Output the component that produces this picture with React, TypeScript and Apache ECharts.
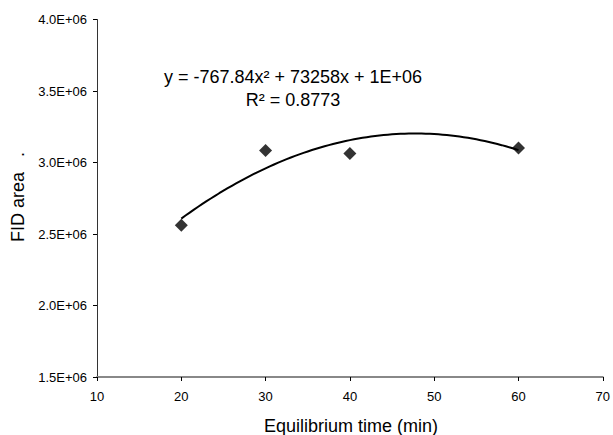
import React, { useEffect, useRef } from "react";
import * as echarts from "echarts";

const xValues = [20, 30, 40, 60];
const yValues = [2.561e6, 3.084e6, 3.063e6, 3.102e6];
const yTickMin = 1.5e6;
const yTickMax = 4.0e6;
const yTickStep = 0.5e6;
const xTickMin = 10;
const xTickMax = 70;
const xTickStep = 10;
const equationText = "y = -767.84x\u00B2 + 73258x + 1E+06";
const r2Text = "R\u00B2 = 0.8773";
const xTitle = "Equilibrium time (min)";
const yTitle = "FID area   .";

// least-squares quadratic fit from the data points
function fitQuadratic(xs: number[], ys: number[]) {
  const n = xs.length;
  let s1 = 0, s2 = 0, s3 = 0, s4 = 0, sy = 0, sxy = 0, sx2y = 0;
  for (let i = 0; i < n; i++) {
    const x = xs[i], y = ys[i];
    s1 += x; s2 += x * x; s3 += x * x * x; s4 += x * x * x * x;
    sy += y; sxy += x * y; sx2y += x * x * y;
  }
  const M = [
    [n, s1, s2, sy],
    [s1, s2, s3, sxy],
    [s2, s3, s4, sx2y],
  ];
  for (let c = 0; c < 3; c++) {
    for (let r = c + 1; r < 3; r++) {
      const f = M[r][c] / M[c][c];
      for (let k = c; k < 4; k++) M[r][k] -= f * M[c][k];
    }
  }
  const sol = [0, 0, 0];
  for (let r = 2; r >= 0; r--) {
    let v = M[r][3];
    for (let k = r + 1; k < 3; k++) v -= M[r][k] * sol[k];
    sol[r] = v / M[r][r];
  }
  return sol; // c, b, a
}

export default function App() {
  const ref = useRef<HTMLDivElement>(null);
  useEffect(() => {
    if (!ref.current) return;
    const chart = echarts.init(ref.current, undefined, { renderer: "svg" });
    const [c, b, a] = fitQuadratic(xValues, yValues);
    const x0 = Math.min(...xValues);
    const x1 = Math.max(...xValues);
    const trend: number[][] = [];
    const steps = 80;
    for (let i = 0; i <= steps; i++) {
      const x = x0 + ((x1 - x0) * i) / steps;
      trend.push([x, a * x * x + b * x + c]);
    }
    const font = "'Liberation Sans', Arial, sans-serif";
    chart.setOption({
      animation: false,
      backgroundColor: "#fff",
      grid: { left: 97, top: 19.5, width: 509, height: 357.5, containLabel: false },
      xAxis: {
        type: "value",
        min: xTickMin,
        max: xTickMax,
        interval: xTickStep,
        axisLine: { show: true, lineStyle: { color: "#888", width: 2 } },
        axisTick: { show: true, length: 4, lineStyle: { color: "#000", width: 1 } },
        axisLabel: { color: "#000", fontSize: 13, fontFamily: font, margin: 13 },
        splitLine: { show: false },
      },
      yAxis: {
        type: "value",
        min: yTickMin,
        max: yTickMax,
        interval: yTickStep,
        axisLine: { show: true, lineStyle: { color: "#333", width: 1 } },
        axisTick: { show: true, length: 4, lineStyle: { color: "#000", width: 1 } },
        axisLabel: {
          color: "#000",
          fontSize: 13,
          fontFamily: font,
          margin: 10,
          formatter: (v: number) => (v / 1e6).toFixed(1) + "E+06",
        },
        splitLine: { show: false },
      },
      series: [
        {
          type: "line",
          data: trend,
          showSymbol: false,
          symbol: "none",
          lineStyle: { color: "#000", width: 2 },
          z: 2,
          silent: true,
        },
        {
          type: "scatter",
          data: xValues.map((x, i) => [x, yValues[i]]),
          symbol: "diamond",
          symbolSize: [13, 13],
          itemStyle: { color: "#000" },
          z: 3,
        },
      ],
      graphic: [
        {
          type: "text",
          x: 293,
          y: 77,
          style: {
            text: equationText,
            fill: "#000",
            fontSize: 18,
            fontFamily: font,
            align: "center",
            verticalAlign: "middle",
          },
        },
        {
          type: "text",
          x: 293,
          y: 100,
          style: {
            text: r2Text,
            fill: "#000",
            fontSize: 18,
            fontFamily: font,
            align: "center",
            verticalAlign: "middle",
          },
        },
        {
          type: "text",
          x: 351,
          y: 426,
          style: {
            text: xTitle,
            fill: "#000",
            fontSize: 18,
            fontFamily: font,
            align: "center",
            verticalAlign: "middle",
          },
        },
        {
          type: "text",
          x: 18,
          y: 197,
          rotation: Math.PI / 2,
          style: {
            text: yTitle,
            fill: "#000",
            fontSize: 18,
            fontFamily: font,
            align: "center",
            verticalAlign: "middle",
          },
        },
      ],
    });
    return () => chart.dispose();
  }, []);
  return (
    <div
      ref={ref}
      style={{ position: "absolute", left: 0, top: 0, width: 613, height: 435 }}
    />
  );
}
